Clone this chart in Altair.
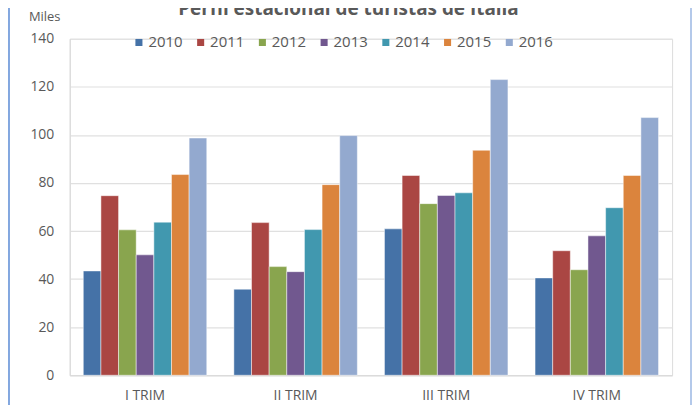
import altair as alt
import pandas as pd

TITLE = "Perfil estacional de turistas de Italia"
UNIT_LABEL = "Miles"
categories = ["I TRIM", "II TRIM", "III TRIM", "IV TRIM"]
years = ["2010", "2011", "2012", "2013", "2014", "2015", "2016"]
v2010 = [43.4, 35.8, 60.9, 40.5]
v2011 = [74.7, 63.5, 83.1, 51.8]
v2012 = [60.5, 45.2, 71.4, 43.9]
v2013 = [50.1, 43.1, 74.8, 58.0]
v2014 = [63.7, 60.6, 75.9, 69.7]
v2015 = [83.5, 79.3, 93.6, 83.1]
v2016 = [98.7, 99.7, 123.0, 107.2]
colors = ["#4572a7", "#aa4643", "#89a54e", "#71588f", "#4198af", "#db843d", "#93a9cf"]
y_ticks = [0, 20, 40, 60, 80, 100, 120, 140]

series = [v2010, v2011, v2012, v2013, v2014, v2015, v2016]
rows = []
for yr, vals in zip(years, series):
    for cat, v in zip(categories, vals):
        rows.append({"trim": cat, "year": yr, "value": v})
df = pd.DataFrame(rows)

FONT = "Open Sans"
GRAY = "#595959"

bars = alt.Chart(df).mark_bar(stroke="white", strokeWidth=0.8, strokeOpacity=0.6).encode(
    x=alt.X("trim:N", sort=categories, title=None,
            scale=alt.Scale(paddingInner=0.18, paddingOuter=0.09),
            axis=alt.Axis(labelAngle=0, labelFont=FONT, labelFontSize=14, labelColor=GRAY,
                          labelPadding=13, ticks=False, domainColor="#d9d9d9", domainWidth=1.2)),
    xOffset=alt.XOffset("year:N", sort=years, scale=alt.Scale(paddingInner=0, paddingOuter=0)),
    y=alt.Y("value:Q", title=None,
            scale=alt.Scale(domain=[0, 140], nice=False),
            axis=alt.Axis(values=y_ticks, labelFont=FONT, labelFontSize=14, labelColor=GRAY,
                          labelPadding=16, ticks=False, domainColor="#d9d9d9",
                          gridColor="#e0e0e0", gridWidth=1.2)),
    color=alt.Color("year:N", sort=years,
                    scale=alt.Scale(domain=years, range=colors),
                    legend=alt.Legend(title=None, orient="none", direction="horizontal",
                                      legendX=62, legendY=-4, symbolType="square",
                                      symbolSize=50, symbolStrokeWidth=0,
                                      labelFont=FONT, labelFontSize=15, labelColor=GRAY,
                                      labelOffset=2, columnPadding=10)),
)

title_df = pd.DataFrame({"t": [TITLE]})
title = alt.Chart(title_df).mark_text(font=FONT, fontSize=19, fontWeight="bold", color=GRAY,
                                      baseline="alphabetic", align="center").encode(
    text="t:N", x=alt.value(280), y=alt.value(-24))

unit_df = pd.DataFrame({"t": [UNIT_LABEL]})
unit = alt.Chart(unit_df).mark_text(font=FONT, fontSize=13, color=GRAY,
                                    baseline="middle", align="left").encode(
    text="t:N", x=alt.value(-41), y=alt.value(-22))

left_border = alt.Chart(title_df).mark_rule(color="#5b8bd5", strokeWidth=1.5).encode(
    x=alt.value(-61), y=alt.value(-40), y2=alt.value(380))
right_border = alt.Chart(title_df).mark_rule(color="#9bb7e3", strokeWidth=1.5).encode(
    x=alt.value(624), y=alt.value(-40), y2=alt.value(380))

chart = alt.layer(bars, title, unit, left_border, right_border).properties(
    width=605, height=338,
    autosize=alt.AutoSizeParams(type="none"),
    padding={"left": 62, "top": 30, "right": 20, "bottom": 30},
).configure_view(stroke=None).configure(background="white")

chart.save("out.html", embed_options={"renderer": "svg", "actions": False})
